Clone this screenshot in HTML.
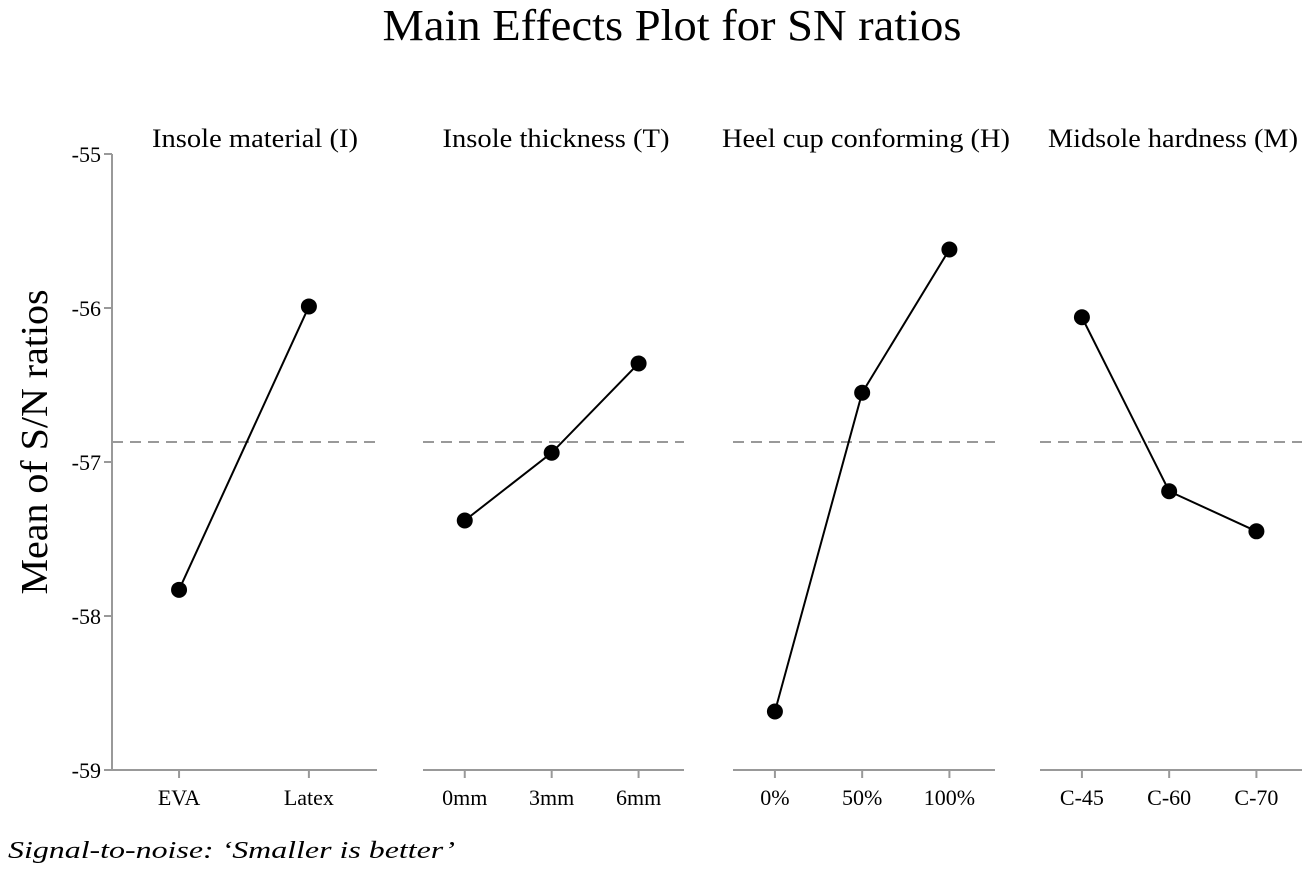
<!DOCTYPE html>
<html><head><meta charset="utf-8"><style>
html,body{margin:0;padding:0;background:#fff;}
svg{display:block;font-family:"Liberation Serif",serif;}
</style></head><body>
<svg id="chart" width="1306" height="869" viewBox="0 0 1306 869">
<text x="672" y="40" font-size="44" text-anchor="middle" textLength="579" lengthAdjust="spacingAndGlyphs">Main Effects Plot for SN ratios</text>
<text transform="translate(47,442) rotate(-90)" font-size="38" text-anchor="middle" textLength="305" lengthAdjust="spacingAndGlyphs">Mean of S/N ratios</text>
<text x="8" y="858" font-size="24" font-style="italic" textLength="447" lengthAdjust="spacingAndGlyphs">Signal-to-noise: ‘Smaller is better’</text>
<g id="plot"></g>
</svg>
<script>
const panelTitles = ["Insole material (I)", "Insole thickness (T)", "Heel cup conforming (H)", "Midsole hardness (M)"];
const levelsI = ["EVA", "Latex"];
const levelsT = ["0mm", "3mm", "6mm"];
const levelsH = ["0%", "50%", "100%"];
const levelsM = ["C-45", "C-60", "C-70"];
const valuesI = [-57.83, -55.99];
const valuesT = [-57.38, -56.94, -56.36];
const valuesH = [-58.62, -56.55, -55.62];
const valuesM = [-56.06, -57.19, -57.45];
const overallMean = -56.87;
const yTicks = [-55, -56, -57, -58, -59];

const NS = "http://www.w3.org/2000/svg";
const g = document.getElementById("plot");
function el(tag, attrs, parent){
  const e = document.createElementNS(NS, tag);
  for (const k in attrs) e.setAttribute(k, attrs[k]);
  (parent || g).appendChild(e);
  return e;
}
const yTop = 154, yBot = 770, yMax = -55, yMin = -59;
function yScale(v){ return yTop + (yMax - v) / (yMax - yMin) * (yBot - yTop); }
const panelX = [[112,377],[423,684],[733,995],[1040,1302]];
const titleCenters = [255, 556, 866, 1173];
const titleWidths = [206, 227, 288, 250];
const levelSets = [levelsI, levelsT, levelsH, levelsM];
const valueSets = [valuesI, valuesT, valuesH, valuesM];
const AX = "#999";

const ya = el("line", {x1:112, y1:yTop, x2:112, y2:yBot, stroke:AX, "stroke-width":2});


yTicks.forEach(t => {
  const y = yScale(t);
  const tk = el("line", {x1:104, y1:y, x2:112, y2:y, stroke:AX, "stroke-width":2});
  
  
  const tl = el("text", {x:101, y:y+8, "font-size":22, "text-anchor":"end"});
  tl.textContent = String(t);
  
  
});

panelX.forEach((px, i) => {
  const [x0, x1] = px;
  const levels = levelSets[i], vals = valueSets[i];
  const w = x1 - x0;
  const n = levels.length;
  const xs = levels.map((_, j) => n === 2 ? x0 + w * (0.253 + 0.49 * j) : x0 + w * (0.16 + 0.333 * j));
  const pt = el("text", {x:titleCenters[i], y:147, "font-size":26, "text-anchor":"middle", textLength:titleWidths[i], lengthAdjust:"spacingAndGlyphs"});
  pt.textContent = panelTitles[i];
  
  
  const ax = el("line", {x1:x0, y1:yBot, x2:x1, y2:yBot, stroke:AX, "stroke-width":2});
  
  
  const my = yScale(overallMean);
  const ml = el("line", {x1:x0, y1:my, x2:x1, y2:my, stroke:"#999", "stroke-width":2, "stroke-dasharray":"11,7"});
  
  
  xs.forEach((x, j) => {
    const tk = el("line", {x1:x, y1:yBot, x2:x, y2:yBot+8, stroke:AX, "stroke-width":2});
    
    
    const tl = el("text", {x:x, y:yBot+35, "font-size":22, "text-anchor":"middle"});
    tl.textContent = levels[j];
    
    
  });
  const pts = vals.map((v, j) => xs[j] + "," + yScale(v)).join(" ");
  const line = el("polyline", {points:pts, fill:"none", stroke:"#000", "stroke-width":2});
  
  
  vals.forEach((v, j) => {
    const c = el("circle", {cx:xs[j], cy:yScale(v), r:8, fill:"#000"});
    
    
  });
});
</script>
</body></html>
